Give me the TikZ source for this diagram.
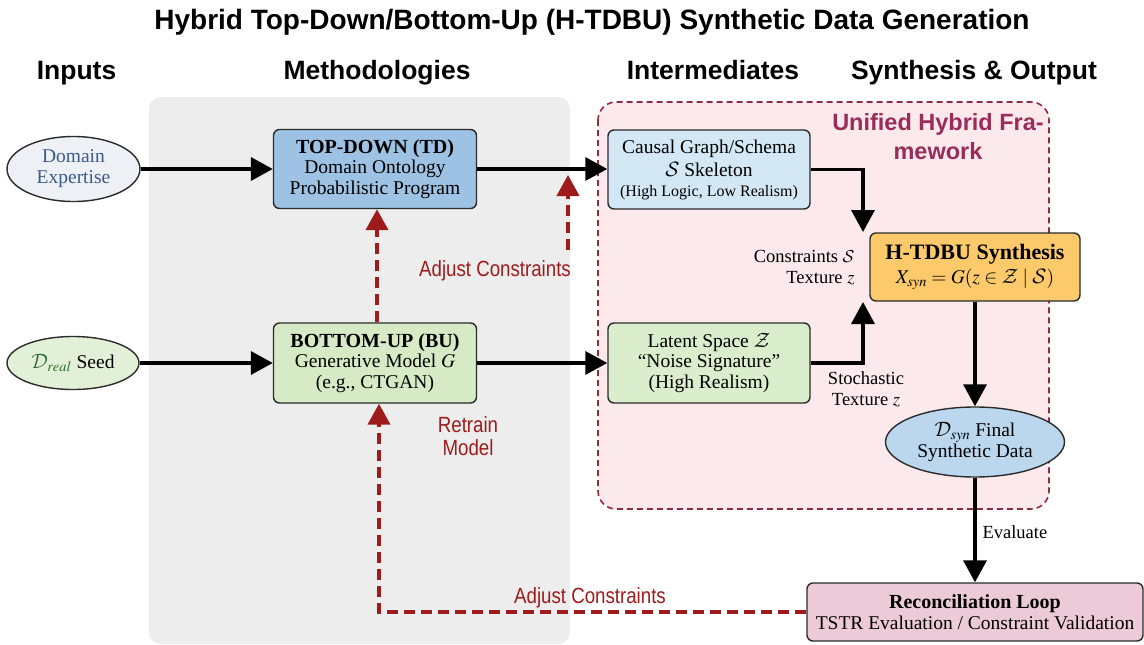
\documentclass[tikz,border=0pt]{standalone}
\usepackage{mathptmx}
\usepackage{fontspec}
\setmainfont{Liberation Serif}
\newfontfamily\hsans{Liberation Sans}
\newfontfamily\nsans[FakeStretch=0.85]{Liberation Sans}
\DeclareMathAlphabet{\mathcal}{OMS}{cmsy}{m}{n}
\usetikzlibrary{arrows.meta,shapes.geometric,calc}

\definecolor{panelgray}{HTML}{EDEDED}
\definecolor{pinkfill}{HTML}{FBE9EB}
\definecolor{pinkborder}{HTML}{8E2C45}
\definecolor{unifiedtxt}{HTML}{9A2C5A}
\definecolor{redarrow}{HTML}{9E1B1B}
\definecolor{tdblue}{HTML}{9DC2E4}
\definecolor{bugreen}{HTML}{D5EAC5}
\definecolor{causalblue}{HTML}{D3E8F4}
\definecolor{latentgreen}{HTML}{DAEDCD}
\definecolor{synthorange}{HTML}{FCCA6B}
\definecolor{dsynblue}{HTML}{BAD7EE}
\definecolor{reconpink}{HTML}{EDCAD8}
\definecolor{deblue}{HTML}{EDF1F6}
\definecolor{detext}{HTML}{3B5A85}
\definecolor{drgreen}{HTML}{E2F0D8}
\definecolor{drtext}{HTML}{2E6B2E}
\definecolor{edgecol}{HTML}{2B2B2B}

\begin{document}
\begin{tikzpicture}[x=1pt,y=-1pt,
  box/.style={draw=edgecol, line width=1.4pt, rounded corners=6pt, align=center,
    inner sep=0pt, font=\fontsize{19.5}{20.5}\selectfont},
  oval/.style={ellipse, draw=edgecol, line width=1.4pt, align=center, inner sep=0pt,
    font=\fontsize{19.5}{21}\selectfont},
  header/.style={font=\hsans\bfseries\fontsize{26.5}{26.5}\selectfont, anchor=base},
  blk/.style={draw=black, line width=3.6pt, -{Triangle[length=22pt,width=23pt]}},
  reddash/.style={draw=redarrow, line width=4pt, dash pattern=on 11pt off 6pt,
    -{Triangle[length=21pt,width=22pt]}},
  redlbl/.style={font=\nsans\fontsize{22}{23}\selectfont, text=redarrow, align=center},
  lbl/.style={font=\fontsize{18.5}{21}\selectfont}
]
\useasboundingbox (0,0) rectangle (1144,645);

% backgrounds
\fill[panelgray, rounded corners=12pt] (149,97) rectangle (570,644);
\draw[pinkborder, fill=pinkfill, line width=1.6pt, dash pattern=on 6pt off 4pt,
  rounded corners=18pt] (598,102) rectangle (1049,509);

% titles
\node[font=\hsans\bfseries\fontsize{28}{28}\selectfont, anchor=base] (title) at (592,30)
  {Hybrid Top-Down/Bottom-Up (H-TDBU) Synthetic Data Generation};
\node[header] (hin) at (76.5,79) {Inputs};
\node[header] (hme) at (377,79) {Methodologies};
\node[header] (hint) at (713,79) {Intermediates};
\node[header] (hsy) at (974,79) {Synthesis \& Output};
\node[font=\hsans\bfseries\fontsize{23.5}{29}\selectfont, text=unifiedtxt, align=center]
  (uni) at (938,137) {Unified Hybrid Fra-\\mework};

% nodes
\node[oval, fill=deblue, text=detext, minimum width=133pt, minimum height=65pt]
  (DE) at (73.5,169) {Domain\\Expertise};
\node[oval, fill=drgreen, minimum width=132pt, minimum height=53pt]
  (DR) at (73,363) {{\color{drtext}$\mathcal{D}_{real}$} Seed};
\node[box, fill=tdblue, minimum width=203pt, minimum height=79pt] (TD) at (375,169)
  {{\bfseries\fontsize{20}{20}\selectfont TOP-DOWN (TD)}\\Domain Ontology\\Probabilistic Program};
\node[box, fill=bugreen, minimum width=203pt, minimum height=80pt] (BU) at (375,363)
  {{\bfseries\fontsize{20}{20}\selectfont BOTTOM-UP (BU)}\\Generative Model $G$\\(e.g., CTGAN)};
\node[box, fill=causalblue, minimum width=202pt, minimum height=79pt] (CG) at (709,169.5)
  {Causal Graph/Schema\\[3pt]$\mathcal{S}$ Skeleton\\[-1pt]{\fontsize{16}{16}\selectfont (High Logic, Low Realism)}};
\node[box, fill=latentgreen, minimum width=202pt, minimum height=80pt] (LS) at (709,363)
  {Latent Space $\mathcal{Z}$\\``Noise Signature''\\(High Realism)};
\node[box, fill=synthorange, minimum width=210pt, minimum height=68pt] (HT) at (975,267)
  {{\bfseries\fontsize{22}{22}\selectfont H-TDBU Synthesis}\\[4pt]$X_{syn}=G(z\in\mathcal{Z}\mid\mathcal{S})$};
\node[oval, fill=dsynblue, minimum width=179pt, minimum height=70pt] (DS) at (975,442)
  {$\mathcal{D}_{syn}$ Final\\Synthetic Data};
\node[box, fill=reconpink, minimum width=336pt, minimum height=58pt] (RC) at (975,612)
  {{\bfseries\fontsize{20}{20}\selectfont Reconciliation Loop}\\TSTR Evaluation / Constraint Validation};

% labels
\node[redlbl, anchor=base] (adj1) at (495,276) {Adjust Constraints};
\node[redlbl] (retrain) at (468,436) {Retrain\\Model};
\node[redlbl, anchor=base] (adj2) at (590,603) {Adjust Constraints};
\node[lbl, align=right, anchor=east] (cons) at (858,268) {Constraints $\mathcal{S}$\\Texture $z$};
\node[lbl, align=center] (stoch) at (866,389) {Stochastic\\Texture $z$};
\node[lbl, anchor=west] (eval) at (979,532) {Evaluate};

% helper coordinates
\coordinate (c1) at (863,232);
\coordinate (c2) at (863,302);
\coordinate (a1) at (568,250);
\coordinate (a2) at (568,175);

% connectors
\draw[blk] (DE) -- (TD);
\draw[blk] (DR) -- (BU);
\draw[blk] (TD) -- (CG.west |- TD);
\draw[blk] (BU) -- (LS);
\draw[blk] (CG.east) -| (c1);
\draw[blk] (LS.east) -| (c2);
\draw[blk] (HT) -- (DS);
\draw[blk] (DS) -- (RC);
\draw[reddash] ([xshift=2pt]BU.north) -- ([xshift=2pt]TD.south);
\draw[reddash] (a1) -- (a2);
\draw[reddash] (RC.west) -| ([xshift=4pt]BU.south);
\end{tikzpicture}
\end{document}
